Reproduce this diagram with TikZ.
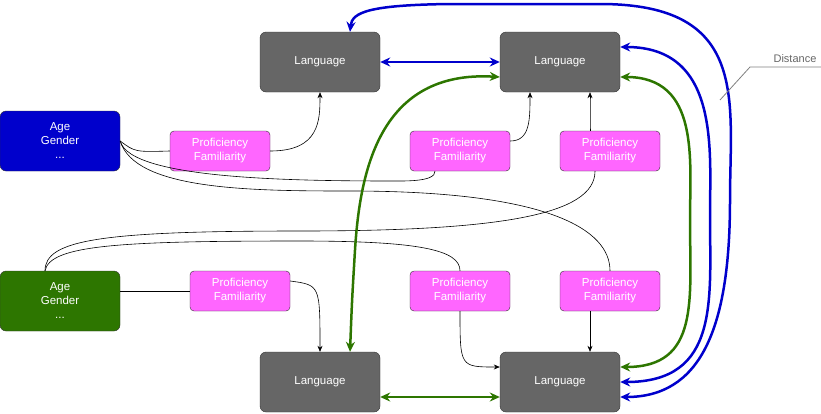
\documentclass[tikz,border=0pt]{standalone}
\usepackage{fontspec}
\setmainfont{Liberation Sans}
\usetikzlibrary{arrows.meta}
\definecolor{pinkf}{HTML}{FF66FF}
\definecolor{darkb}{HTML}{0000CC}
\definecolor{darkg}{HTML}{2D7600}
\begin{document}
\begin{tikzpicture}[x=1pt,y=-1pt,
  lang/.style={draw=black!80,fill=black!60,rounded corners=6pt,minimum width=120pt,minimum height=60pt,text=white,font=\fontsize{11.5}{13}\selectfont},
  agebox/.style={draw=black!80,rounded corners=6pt,minimum width=120pt,minimum height=60pt,text=white,align=center,font=\fontsize{11.5}{14}\selectfont},
  prof/.style={draw=black!80,fill=pinkf,rounded corners=4pt,minimum width=100pt,minimum height=40pt,text=white,align=center,font=\fontsize{11.5}{14}\selectfont},
  thin/.style={draw=black,line width=0.6pt},
  tarr/.style={thin,-{Stealth[length=6pt,width=5pt]}},
  blue2/.style={draw=darkb,line width=2.5pt,{Stealth[length=10pt,width=9pt]}-{Stealth[length=10pt,width=9pt]}},
  green2/.style={draw=darkg,line width=2.5pt,{Stealth[length=10pt,width=9pt]}-{Stealth[length=10pt,width=9pt]}}]
\useasboundingbox (0,0) rectangle (821,413);
\node[lang] (L1) at (320,62) {Language};
\node[lang] (L2) at (560,62) {Language};
\node[lang] (L3) at (320,382) {Language};
\node[lang] (L4) at (560,382) {Language};
\node[agebox,fill=darkb] (A1) at (60,141) {Age\\Gender\\...};
\node[agebox,fill=darkg] (A2) at (60,301) {Age\\Gender\\...};
\node[prof] (P1) at (220,151) {Proficiency\\Familiarity};
\node[prof] (P2) at (460,151) {Proficiency\\Familiarity};
\node[prof] (P3) at (610,151) {Proficiency\\Familiarity};
\node[prof] (P4) at (240,291) {Proficiency\\Familiarity};
\node[prof] (P5) at (460,291) {Proficiency\\Familiarity};
\node[prof] (P6) at (610,291) {Proficiency\\Familiarity};
% thin connectors
\draw[thin] (A1.east) .. controls (135,152) .. (P1.west);
\draw[tarr] (P1.east) .. controls (320,151) and (320,120) .. (L1.south);
\draw[thin] (A1.east) .. controls (130,180) and (300,181) .. (400,181) .. controls (430,181) and (435,176) .. (P2.south west -| 435,171);
\draw[tarr] (P2.east |- 510,141) .. controls (530,141) and (530,120) .. (L2.south west -| 530,92);
\draw[thin] (A1.east) .. controls (135,190) and (250,191) .. (350,191) .. controls (550,191) and (610,230) .. (P6.north);
\draw[thin] (A2.north west -| 45,271) .. controls (45,240) and (100,231) .. (300,231) .. controls (500,231) and (595,215) .. (P3.south west -| 595,171);
\draw[thin] (A2.north west -| 45,271) .. controls (50,245) and (120,241) .. (300,241) .. controls (420,241) and (460,250) .. (P5.north);
\draw[tarr] (P3.north west -| 590,131) .. controls (590,110) .. (L2.south east -| 590,92);
\draw[thin] (A2.east |- P4.west) -- (P4.west);
\draw[tarr] (P4.north east |- 290,281) .. controls (320,285) .. (L3.north);
\draw[tarr] (P5.south) .. controls (460,367) .. (L4.west |- 500,367);
\draw[tarr] (P6.south west -| 590,311) -- (L4.north east -| 590,352);
% thick connectors
\draw[blue2] (L1.east) -- (L2.west);
\draw[green2] (L3.east |- 380,397) -- (L4.west |- 500,397);
\draw[blue2] (L1.north east -| 350,32) .. controls (352,12) and (370,5) .. (450,4) -- (600,4) .. controls (750,4) and (730,100) .. (730,200) .. controls (730,330) and (700,397) .. (L4.east |- 620,397);
\draw[blue2] (L2.east |- 620,47) .. controls (720,47) and (710,150) .. (710,215) .. controls (710,300) and (720,382) .. (L4.east);
\draw[green2] (L2.east |- 620,77) .. controls (700,77) and (690,160) .. (690,220) .. controls (690,300) and (700,367) .. (L4.east |- 620,367);
\draw[green2] (L2.west |- 500,77) .. controls (380,70) and (360,170) .. (355,250) .. controls (352,300) .. (L3.north west -| 350,352);
% Distance label
\coordinate (d1) at (720,100);
\coordinate (d2) at (750,67);
\coordinate (d3) at (821,67);
\draw[gray,line width=0.8pt] (d1) -- (d2) -- (d3);
\node[text=black!60,font=\fontsize{11}{13}\selectfont,anchor=south] (dl) at (795,66) {Distance};
\end{tikzpicture}
\end{document}
